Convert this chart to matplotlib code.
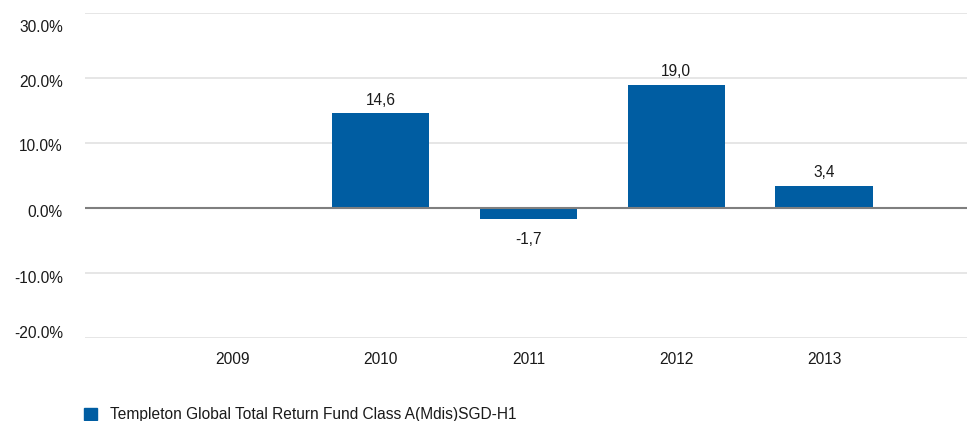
import matplotlib
matplotlib.use("Agg")
import matplotlib.pyplot as plt
import matplotlib.transforms as mtransforms
from matplotlib.patches import Rectangle
import numpy as np

years = ["2009", "2010", "2011", "2012", "2013"]
values = [np.nan, 14.6, -1.7, 19.0, 3.4]
value_labels = ["", "14,6", "-1,7", "19,0", "3,4"]
ytick_values = [30, 20, 10, 0, -10, -20]
ytick_labels = ["30.0%", "20.0%", "10.0%", "0.0%", "-10.0%", "-20.0%"]
series_name = "Templeton Global Total Return Fund Class A(Mdis)SGD-H1"

BAR = "#005DA2"
FS = 11.2
plt.rcParams['font.family'] = ['Liberation Sans', 'DejaVu Sans']

W, H = 967, 421
fig = plt.figure(figsize=(W / 100, H / 100), dpi=100)
ax_l, ax_r, ax_t, ax_b = 85, 967, 13, 338
ax = fig.add_axes([ax_l / W, 1 - ax_b / H, (ax_r - ax_l) / W, (ax_b - ax_t) / H])

x = np.arange(len(years))
ax.bar(x, values, width=0.66, color=BAR, zorder=3)
ax.set_xlim(-1, 4.966)
ax.set_ylim(-20, 30)

for s in ax.spines.values():
    s.set_visible(False)
ax.set_yticks(ytick_values)
ax.set_yticklabels(ytick_labels, fontsize=FS, color="#1a1a1a")
ax.set_xticks(x)
ax.set_xticklabels(years, fontsize=FS, color="#1a1a1a")
ax.tick_params(axis="both", length=0)
ax.tick_params(axis="y", pad=16)
ax.tick_params(axis="x", pad=10)
for yv in ytick_values:
    if yv == 0:
        ax.axhline(0, color="#7f7f7f", lw=1.5, zorder=4)
    else:
        ax.axhline(yv, color="#e2e2e2", lw=1.2, zorder=1)

# label offsets to match reference
offs = {0: -13, 1: -3, 2: -2, 3: -3, 4: -4, 5: 6}
for i, lab in enumerate(ax.get_yticklabels()):
    dy = offs.get(i, 0)
    lab.set_transform(lab.get_transform() + mtransforms.ScaledTranslation(0, dy / 100, fig.dpi_scale_trans))

for xi, v, lab in zip(x, values, value_labels):
    if np.isnan(v) or not lab:
        continue
    if v >= 0:
        ax.annotate(lab, (xi, v), xytext=(0, 4), textcoords="offset points",
                    ha="center", va="bottom", fontsize=FS, color="#1a1a1a")
    else:
        ax.annotate(lab, (xi, v), xytext=(0, -9), textcoords="offset points",
                    ha="center", va="top", fontsize=FS, color="#1a1a1a")

# legend
fig.patches.append(Rectangle((84 / W, 1 - 420 / H), 13 / W, 12 / H, transform=fig.transFigure,
                             color=BAR, figure=fig))
fig.text(110 / W, 1 - 414 / H, series_name, fontsize=FS, color="#1a1a1a", va="center", ha="left")

fig.savefig("out.png", dpi=100, facecolor="white")
